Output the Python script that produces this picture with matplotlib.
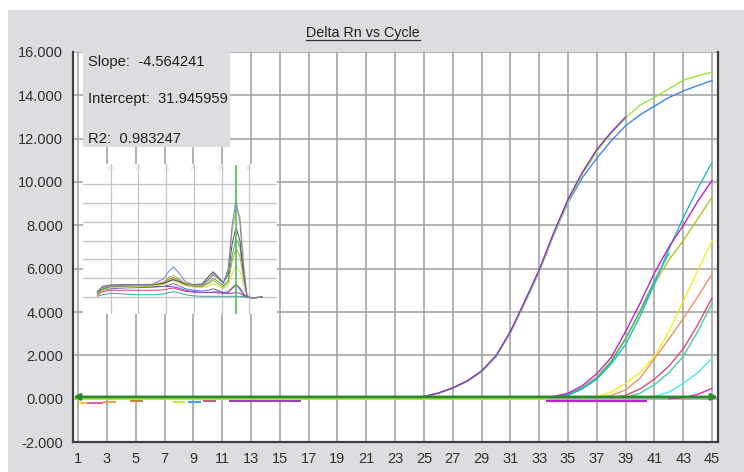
import numpy as np
import matplotlib
matplotlib.use("Agg")
import matplotlib.pyplot as plt
from matplotlib.patches import Rectangle
from matplotlib.lines import Line2D

plt.rcParams['font.family'] = ['Liberation Sans', 'DejaVu Sans']

W, H = 744, 472
frame_grey = '#dcdde1'
grid_grey = '#a4a4a4'

### amplification curves: (first cycle, delta Rn per cycle, colour)
early_blue = [0.05, 0.10, 0.25, 0.48, 0.80, 1.25, 1.94, 3.04, 4.42, 5.86, 7.55, 9.05, 10.2,
              11.1, 11.9, 12.6, 13.1, 13.5, 13.9, 14.2, 14.45, 14.68]
early_green = [0.05, 0.10, 0.25, 0.48, 0.80, 1.25, 1.94, 3.04, 4.42, 5.86, 7.55, 9.10, 10.35,
               11.4, 12.25, 12.95, 13.55, 13.9, 14.3, 14.7, 14.9, 15.07]
early_purple = [0.05, 0.10, 0.26, 0.50, 0.82, 1.28, 1.98, 3.10, 4.50, 5.95, 7.65, 9.2, 10.45,
                11.5, 12.3, 13.0]

mid_magenta = [0.02, 0.10, 0.25, 0.60, 1.15, 1.90, 3.10, 4.40, 5.80, 7.00, 8.00, 9.10, 10.07]
mid_cyan = [0.05, 0.15, 0.45, 0.90, 1.60, 2.50, 3.80, 5.30, 6.90, 8.35, 9.70, 10.9]
mid_olive = [0.05, 0.20, 0.50, 1.00, 1.75, 2.80, 4.00, 5.30, 6.40, 7.30, 8.30, 9.30]
mid_green = [0.05, 0.18, 0.50, 0.95, 1.70, 2.75, 4.05, 5.45, 6.70]

late_yellow = [0.02, 0.10, 0.30, 0.70, 1.20, 1.95, 3.10, 4.50, 5.90, 7.30]
late_orange = [0.05, 0.15, 0.40, 0.95, 1.85, 2.75, 3.70, 4.70, 5.75]
late_red = [0.03, 0.15, 0.45, 0.90, 1.50, 2.30, 3.40, 4.65]
late_teal = [0.05, 0.25, 0.65, 1.20, 1.95, 3.10, 4.40]
late_cyan = [0.02, 0.10, 0.30, 0.70, 1.20, 1.85]
late_magenta = [0.00, 0.05, 0.20, 0.47]

curves = [
    (24, early_blue, '#3f86e8'),
    (24, early_green, '#98e83a'),
    (24, early_purple, '#8a2ad8'),
    (34, mid_olive, '#b8c020'),
    (34, mid_green, '#2ec070'),
    (34, mid_cyan, '#20b8c8'),
    (33, mid_magenta, '#c020d0'),
    (36, late_yellow, '#f0f020'),
    (37, late_orange, '#f09060'),
    (38, late_red, '#e04870'),
    (39, late_teal, '#40d0a0'),
    (40, late_cyan, '#40f0e8'),
    (42, late_magenta, '#e020e0'),
]

# short negative baseline pieces below the threshold
dash_start = [1.0, 1.6, 2.7, 4.6, 7.6, 8.6, 9.7, 11.5, 33.5]
dash_end = [1.7, 2.7, 3.6, 5.5, 8.4, 9.5, 10.6, 16.5, 40.5]
dash_level = [-0.20, -0.22, -0.16, -0.12, -0.15, -0.15, -0.13, -0.13, -0.12]
dash_color = ['#f0d020', '#e060a0', '#f0a040', '#c08040', '#c0f040', '#40a0e0', '#c06090',
              '#a040c0', '#c020d0']

threshold = 0.08

### melt curve inset: temperature vs derivative
melt_t = [62.6, 63.5, 65, 67.5, 70, 72.5, 74.5, 75.5, 76.3, 77.2, 78.5, 80, 81.5, 82.7, 83.5,
          84.3, 85.3, 86.2, 86.9, 87.6, 88.3, 89.0, 89.6, 90.5, 92.3]
melt_curves = [
    ('#e04070', [0.04, 0.14, 0.18, 0.18, 0.18, 0.18, 0.19, 0.22, 0.24, 0.20, 0.15, 0.13, 0.12,
                 0.12, 0.12, 0.11, 0.09, 0.12, 0.22, 0.32, 0.25, 0.08, 0.0, -0.02, 0.0]),
    ('#40a0a0', [0.02, 0.06, 0.10, 0.08, 0.06, 0.06, 0.08, 0.12, 0.14, 0.12, 0.06, 0.03, 0.02,
                 0.02, 0.02, 0.02, 0.02, 0.02, 0.02, 0.02, 0.02, 0.01, 0.0, -0.02, 0.0]),
    ('#7a3cc8', [0.10, 0.22, 0.27, 0.28, 0.28, 0.28, 0.28, 0.28, 0.27, 0.24, 0.18, 0.14, 0.12,
                 0.12, 0.13, 0.14, 0.12, 0.09, 0.10, 0.12, 0.10, 0.04, 0.0, -0.02, 0.0]),
    ('#5870c0', [0.08, 0.18, 0.22, 0.24, 0.25, 0.26, 0.28, 0.32, 0.36, 0.30, 0.22, 0.18, 0.16,
                 0.18, 0.22, 0.18, 0.12, 0.14, 0.25, 0.34, 0.20, 0.05, 0.0, -0.02, 0.0]),
    ('#d8d850', [0.05, 0.18, 0.25, 0.27, 0.28, 0.29, 0.33, 0.40, 0.44, 0.38, 0.30, 0.26, 0.25,
                 0.30, 0.36, 0.30, 0.22, 0.30, 0.62, 0.80, 0.70, 0.30, 0.02, -0.02, 0.0]),
    ('#a8a838', [0.06, 0.20, 0.27, 0.29, 0.30, 0.31, 0.36, 0.44, 0.48, 0.42, 0.32, 0.28, 0.28,
                 0.36, 0.44, 0.36, 0.26, 0.38, 0.95, 1.29, 1.10, 0.45, 0.02, -0.03, 0.0]),
    ('#50b050', [0.08, 0.22, 0.28, 0.30, 0.31, 0.32, 0.38, 0.48, 0.52, 0.46, 0.34, 0.30, 0.30,
                 0.40, 0.50, 0.42, 0.30, 0.45, 1.10, 1.55, 1.35, 0.55, 0.02, -0.03, 0.0]),
    ('#505050', [0.14, 0.28, 0.32, 0.33, 0.33, 0.33, 0.36, 0.42, 0.46, 0.42, 0.35, 0.33, 0.35,
                 0.55, 0.67, 0.55, 0.38, 0.60, 1.40, 1.85, 1.50, 0.60, 0.02, -0.03, 0.0]),
    ('#e8a040', [0.10, 0.24, 0.30, 0.31, 0.32, 0.33, 0.40, 0.52, 0.58, 0.50, 0.36, 0.31, 0.32,
                 0.46, 0.58, 0.50, 0.36, 0.70, 1.75, 2.34, 2.15, 0.90, 0.05, -0.03, 0.0]),
    ('#6a7fd0', [0.12, 0.26, 0.31, 0.32, 0.33, 0.34, 0.48, 0.68, 0.80, 0.66, 0.40, 0.32, 0.33,
                 0.48, 0.62, 0.52, 0.36, 0.75, 1.90, 2.57, 2.00, 0.70, 0.0, -0.03, 0.0]),
]
melt_marker = 87.6

stats = ['Slope:  -4.564241', 'Intercept:  31.945959', 'R2:  0.983247']


def rect(x0, y0, x1, y1):
    # pixel box -> figure fraction
    return [x0 / W, 1 - y1 / H, (x1 - x0) / W, (y1 - y0) / H]


fig = plt.figure(figsize=(W / 100, H / 100), dpi=100)
fig.patch.set_facecolor('white')
fig.add_artist(Rectangle((8 / W, 0), 1, 1 - 10 / H, transform=fig.transFigure,
                         facecolor=frame_grey, edgecolor='none', zorder=-5))

ax = fig.add_axes(rect(73, 52, 718, 442))
ax.set_facecolor('white')
ax.set_xlim(0.65, 45.41)
ax.set_ylim(-2, 16)
ax.set_xticks(np.arange(1, 46, 2))
ax.set_yticks(np.arange(-2, 17, 2))
ax.set_yticklabels(['%.3f' % v for v in np.arange(-2, 17, 2)])
ax.tick_params(length=0, labelsize=10.5, colors='#303030', pad=7)
ax.grid(True, color=grid_grey, lw=1.2)
ax.set_axisbelow(True)
for s in ['left', 'bottom', 'right']:
    ax.spines[s].set_color('#404040')
    ax.spines[s].set_linewidth(1.6)
ax.spines['top'].set_visible(False)

for start, vals, col in curves:
    cyc = np.arange(start, start + len(vals))
    ax.plot(cyc, vals, color=col, lw=1.0, zorder=3)

ax.hlines(dash_level, dash_start, dash_end, colors=dash_color, lw=1.5, zorder=2)

# threshold line with arrow heads at both ends
ax.plot([0.8, 33.5], [threshold - 0.1, threshold - 0.1], color='#b0e838', lw=1.4, zorder=4)
ax.annotate('', xy=(45.41, threshold), xytext=(0.65, threshold),
            arrowprops=dict(arrowstyle='<|-|>', color='#2a8a2a', lw=2.0,
                            mutation_scale=9, shrinkA=0, shrinkB=0), zorder=5)

# regression stats panel
fig.add_artist(Rectangle((83 / W, 1 - 147 / H), (230 - 83) / W, (147 - 52) / H,
                         transform=fig.transFigure, facecolor=frame_grey,
                         edgecolor='none', zorder=2))
for txt, ypix in zip(stats, [62, 99, 139]):
    fig.text(88 / W, 1 - ypix / H, txt, fontsize=10.6, color='#202020', va='center',
             zorder=4)

# melt curve inset
axm = fig.add_axes(rect(83, 164, 277, 314))
axm.set_zorder(3)
axm.set_facecolor('white')
axm.set_xlim(60, 95)
axm.set_ylim(-0.45, 3.53)
axm.set_xticks(np.arange(65, 91, 5))
axm.set_yticks(np.arange(0, 3.1, 0.5))
axm.tick_params(length=0, labelbottom=False, labelleft=False)
axm.grid(True, color='#c4c4c4', lw=0.9)
axm.set_axisbelow(True)
for s in axm.spines.values():
    s.set_visible(False)
for t in np.arange(65, 91, 5):
    axm.text(t, 3.42, str(t), fontsize=4.5, color='#d4d4d4', ha='center', va='center')
for col, vals in melt_curves:
    axm.plot(melt_t, vals, color=col, lw=0.7)
axm.axvline(melt_marker, color='#50c050', lw=1.2, ymin=0.01, ymax=0.99)

# underlined title
title = fig.text(363 / W, 1 - 33 / H, 'Delta Rn vs Cycle', fontsize=10.3, color='#202020',
                 ha='center', va='center')
fig.canvas.draw()
bb = title.get_window_extent().transformed(fig.transFigure.inverted())
fig.add_artist(Line2D([bb.x0, bb.x1], [bb.y0 + 0.5 / H, bb.y0 + 0.5 / H], color='#303030',
                      lw=0.9, transform=fig.transFigure))

fig.savefig('out.png', dpi=100)
